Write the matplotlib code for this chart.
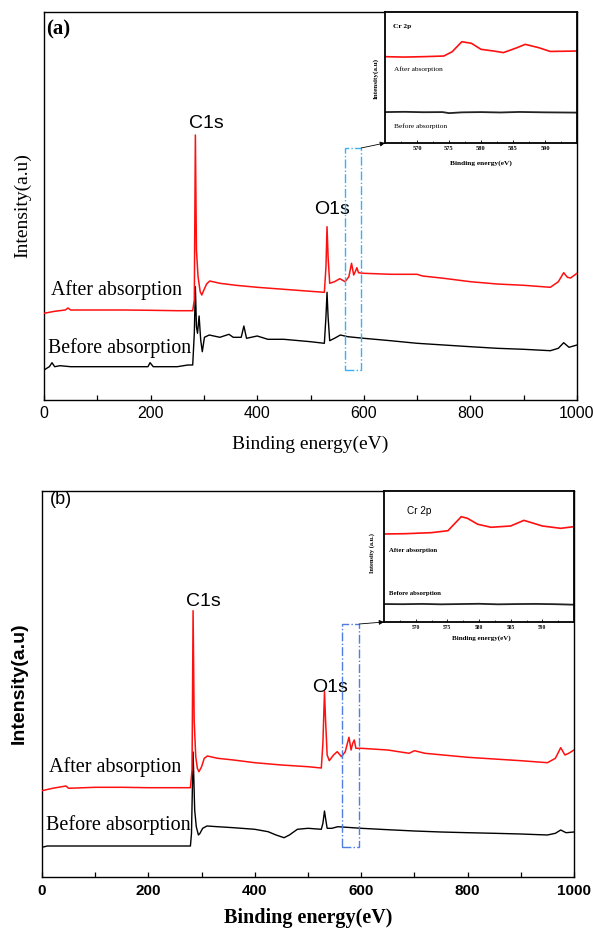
import matplotlib
matplotlib.use("Agg")
import matplotlib.pyplot as plt
from matplotlib.patches import Rectangle

SERIF = "Liberation Serif"
SANS = "Liberation Sans"

# ---------------- data: panel (a) survey ----------------
a_red_e = [0, 20, 40, 45, 50, 100, 150, 200, 250, 279, 282, 284, 286, 289, 293, 296, 300, 305, 311,
           330, 360, 400, 450, 500, 526, 529, 531, 533, 536, 545, 555, 565, 572, 577, 581, 584, 587,
           590, 600, 650, 700, 710, 750, 800, 850, 900, 950, 965, 975, 982, 988, 1000]
a_red_i = [84.7, 86.7, 88, 90, 88, 88, 88, 87.7, 87.3, 87.3, 98, 263, 148, 121.3, 106.3, 103, 108, 114, 117,
           114.7, 112.7, 110.7, 108.7, 106.7, 105.7, 131, 171.3, 141.3, 114.7, 116.3, 119.3, 116.3, 121.3, 134.7,
           123, 126.3, 130.3, 125.3, 124.7, 123.7, 123.7, 122, 119.7, 116.3, 114, 112.7, 110.7, 116.3, 125.3,
           120.7, 120, 124.7]
a_blk_e = [0, 10, 15, 20, 30, 50, 100, 150, 195, 199, 205, 250, 270, 279, 282, 284, 286, 288, 291, 294,
           297, 301, 310, 330, 347, 355, 370, 375, 380, 400, 420, 450, 500, 526, 529, 531, 533, 536, 545,
           556, 570, 600, 650, 700, 750, 800, 850, 900, 950, 965, 975, 985, 1000]
a_blk_i = [28, 31.3, 35.3, 31.3, 32.3, 31.3, 31.3, 31.3, 31.3, 35.3, 31.3, 31.3, 33, 33, 64.7, 111.3, 71.3,
           64.7, 82, 58, 46.3, 60.7, 63, 60.7, 63.7, 60.7, 60.7, 72, 59.7, 62, 58.7, 58.7, 56.3, 54.7, 81.3,
           105.7, 81.3, 57.3, 59.7, 63, 61.3, 59.7, 57.3, 54.7, 53, 51.3, 49.7, 48.7, 47.3, 49.7, 55.3, 50.7, 53]

# ---------------- data: panel (b) survey ----------------
b_red_e = [0, 20, 45, 50, 100, 150, 200, 250, 279, 282, 284, 286, 289, 292, 295, 300, 305, 311, 330, 360,
           400, 450, 500, 525, 528, 531, 533, 536, 540, 548, 555, 563, 570, 577, 581, 584, 587, 590, 600,
           650, 690, 700, 720, 800, 900, 950, 965, 975, 983, 990, 1000]
b_red_i = [86.3, 88.7, 91, 88.7, 89.7, 89.7, 89.3, 89.3, 89.3, 107, 266.3, 157, 120.3, 108.7, 105.3, 110.3,
           118.7, 121, 118.7, 117, 114.3, 112, 110.3, 109, 133.7, 185.3, 157, 122, 116.3, 122, 125.3, 120.3,
           125.3, 139.7, 127, 133.7, 137, 128.7, 128.7, 127, 123.7, 126.3, 123.7, 119.7, 116.3, 114.3, 118.7,
           129.3, 122, 123.7, 127]
b_blk_e = [0, 10, 50, 100, 150, 200, 250, 279, 281, 284, 287, 290, 294, 297, 302, 310, 330, 360, 400, 425,
           440, 455, 465, 480, 500, 525, 528, 531, 533, 536, 545, 556, 600, 650, 700, 750, 800, 850, 900,
           950, 965, 975, 985, 1000]
b_blk_i = [29.7, 31, 31, 31, 31, 31, 31, 31, 43.7, 125, 67, 50.3, 42, 43.7, 48.7, 51, 50.3, 49.3, 47.7, 45.3,
           42, 39.3, 42, 47.7, 48.7, 47.7, 53.7, 66, 58.7, 48.7, 48.7, 50.3, 48.7, 47.3, 46, 45, 44.3, 43.7,
           43, 42, 43.7, 47, 44.3, 45]

# ---------------- data: Cr 2p insets ----------------
ia_red_e = [565, 568, 571, 574.2, 575.5, 577, 578.5, 580, 582, 583.5, 585.5, 586.9, 589, 590.8, 595]
ia_red_i = [0.659, 0.656, 0.659, 0.664, 0.697, 0.773, 0.761, 0.715, 0.702, 0.690, 0.725, 0.753, 0.728, 0.699, 0.702]
ia_blk_e = [565, 568, 571, 574, 575, 577, 580, 583, 586, 590, 595]
ia_blk_i = [0.236, 0.238, 0.235, 0.236, 0.228, 0.234, 0.236, 0.233, 0.237, 0.234, 0.232]

ib_red_e = [565.2, 568.3, 572.5, 575.1, 577.2, 578.2, 579.8, 581.9, 585, 587.1, 590, 592.9, 595]
ib_red_i = [0.672, 0.674, 0.682, 0.697, 0.804, 0.791, 0.746, 0.723, 0.733, 0.776, 0.733, 0.715, 0.728]
ib_blk_e = [565, 568, 571, 574, 577, 580, 583, 586, 589, 592, 595]
ib_blk_i = [0.137, 0.136, 0.138, 0.135, 0.137, 0.139, 0.135, 0.137, 0.138, 0.136, 0.132]

x_ticks = [0, 200, 400, 600, 800, 1000]
inset_ticks = [570, 575, 580, 585, 590]

# ---------------- figure ----------------
fig = plt.figure(figsize=(5.93, 9.32), dpi=100)
W, H = 593.0, 932.0


def frac(l, r, t, b):
    return [l / W, 1 - b / H, (r - l) / W, (b - t) / H]


def style_main(ax, bold):
    for s in ax.spines.values():
        s.set_linewidth(1.0)
    ax.set_xlim(0, 1000)
    ax.set_xticks(x_ticks)
    ax.set_xticks(range(100, 1000, 200), minor=True)
    ax.set_yticks([])
    ax.tick_params(axis="x", which="both", direction="in", length=3.5, width=0.9, pad=5)
    for lab in ax.get_xticklabels():
        lab.set_fontfamily(SANS)
        lab.set_fontsize(11.5 if not bold else 11)
        if bold:
            lab.set_fontweight("bold")


def style_inset(ax, bold_ticks=True, tsize=4.6):
    for s in ax.spines.values():
        s.set_linewidth(1.3)
    ax.set_xlim(565, 595)
    ax.set_ylim(0, 1)
    ax.set_xticks(inset_ticks)
    ax.set_xticks([567.5, 572.5, 577.5, 582.5, 587.5, 592.5], minor=True)
    ax.set_yticks([])
    ax.tick_params(axis="x", which="major", direction="in", length=2, width=0.6, pad=2)
    ax.tick_params(axis="x", which="minor", direction="in", length=1.2, width=0.5)
    for lab in ax.get_xticklabels():
        lab.set_fontfamily(SERIF)
        lab.set_fontsize(tsize)
        lab.set_fontweight("bold")


# ===== panel (a) =====
axa = fig.add_axes(frac(44, 577, 12, 399.5))
axa.plot(a_blk_e, a_blk_i, color="black", lw=1.0, zorder=2)
axa.plot(a_red_e, a_red_i, color="#ff1010", lw=1.1, zorder=3)
axa.set_ylim(-1.5, 386)
style_main(axa, bold=False)
axa.set_xlabel("Binding energy(eV)", fontfamily=SERIF, fontsize=14, va="center")
axa.xaxis.set_label_coords(0.5, -0.117)
axa.set_ylabel("Intensity(a.u)", fontfamily=SERIF, fontsize=14, va="center")
axa.yaxis.set_label_coords(-0.040, 0.50)
axa.text(0.004, 0.954, "(a)", transform=axa.transAxes, fontfamily=SERIF, fontweight="bold",
         fontsize=15, ha="left", va="center")
axa.text(304, 275, "C1s", fontfamily=SANS, fontsize=14, ha="center", va="center")
axa.text(541, 188, "O1s", fontfamily=SANS, fontsize=14, ha="center", va="center")
axa.text(13, 108, "After absorption", fontfamily=SERIF, fontsize=14.3, ha="left", va="center")
axa.text(7, 50, "Before absorption", fontfamily=SERIF, fontsize=14.3, ha="left", va="center")
axa.add_patch(Rectangle((565, 28), 30, 222, fill=False, ls="-.", lw=1.0, ec="#3db0f5", zorder=4))

insa = fig.add_axes(frac(385, 577, 12, 143))
insa.plot(ia_blk_e, ia_blk_i, color="#222222", lw=1.3)
insa.plot(ia_red_e, ia_red_i, color="#ff1010", lw=1.2)
style_inset(insa)
insa.set_xlabel("Binding energy(eV)", fontfamily=SERIF, fontweight="bold", fontsize=5.3, va="center")
insa.xaxis.set_label_coords(0.5, -0.153)
insa.set_ylabel("Intensity(a.u)", fontfamily=SERIF, fontweight="bold", fontsize=5.1, va="center")
insa.yaxis.set_label_coords(-0.047, 0.496)
insa.text(0.042, 0.893, "Cr 2p", transform=insa.transAxes, fontfamily=SERIF, fontweight="bold",
          fontsize=5.3, ha="left", va="center")
insa.text(0.047, 0.565, "After absorption", transform=insa.transAxes, fontfamily=SERIF,
          fontsize=5.3, ha="left", va="center")
insa.text(0.047, 0.132, "Before absorption", transform=insa.transAxes, fontfamily=SERIF,
          fontsize=5.3, ha="left", va="center")
axa.annotate("", xy=(0, 0), xycoords=insa.transAxes, xytext=(595, 250), textcoords="data",
             arrowprops=dict(arrowstyle="-|>", color="black", lw=0.6, mutation_scale=7,
                             shrinkA=0, shrinkB=0), zorder=5)

# ===== panel (b) =====
axb = fig.add_axes(frac(42, 574, 491, 877))
axb.plot(b_blk_e, b_blk_i, color="black", lw=1.0, zorder=2)
axb.plot(b_red_e, b_red_i, color="#ff1010", lw=1.1, zorder=3)
axb.set_ylim(0, 386)
style_main(axb, bold=True)
axb.set_xlabel("Binding energy(eV)", fontfamily=SERIF, fontweight="bold", fontsize=14.5, va="center")
axb.xaxis.set_label_coords(0.5, -0.107)
axb.set_ylabel("Intensity(a.u)", fontfamily=SANS, fontweight="bold", fontsize=14, va="center")
axb.yaxis.set_label_coords(-0.043, 0.503)
axb.text(0.015, 0.977, "(b)", transform=axb.transAxes, fontfamily=SANS, fontsize=13,
         ha="left", va="center")
axb.text(304, 276, "C1s", fontfamily=SANS, fontsize=14, ha="center", va="center")
axb.text(541, 190, "O1s", fontfamily=SANS, fontsize=14, ha="center", va="center")
axb.text(13, 110, "After absorption", fontfamily=SERIF, fontsize=14.5, ha="left", va="center")
axb.text(7, 52, "Before absorption", fontfamily=SERIF, fontsize=14.5, ha="left", va="center")
axb.add_patch(Rectangle((564, 30), 32, 223, fill=False, ls="-.", lw=1.0, ec="#4f7fe0", zorder=4))

insb = fig.add_axes(frac(384, 574, 491, 622))
insb.plot(ib_blk_e, ib_blk_i, color="#222222", lw=1.3)
insb.plot(ib_red_e, ib_red_i, color="#ff1010", lw=1.2)
style_inset(insb, tsize=4.0)
insb.set_xlabel("Binding energy(eV)", fontfamily=SERIF, fontweight="bold", fontsize=5.0, va="center")
insb.xaxis.set_label_coords(0.51, -0.122)
insb.set_ylabel("Intensity (a.u.)", fontfamily=SERIF, fontweight="bold", fontsize=4.6, va="center")
insb.yaxis.set_label_coords(-0.063, 0.527)
insb.text(0.119, 0.847, "Cr 2p", transform=insb.transAxes, fontfamily=SANS,
          fontsize=7.2, ha="left", va="center")
insb.text(0.026, 0.544, "After absorption", transform=insb.transAxes, fontfamily=SERIF,
          fontweight="bold", fontsize=4.9, ha="left", va="center")
insb.text(0.026, 0.214, "Before absorption", transform=insb.transAxes, fontfamily=SERIF,
          fontweight="bold", fontsize=4.9, ha="left", va="center")
axb.annotate("", xy=(0, 0), xycoords=insb.transAxes, xytext=(596, 253), textcoords="data",
             arrowprops=dict(arrowstyle="-|>", color="black", lw=0.6, mutation_scale=7,
                             shrinkA=0, shrinkB=0), zorder=5)

fig.savefig("out.png", dpi=100)
